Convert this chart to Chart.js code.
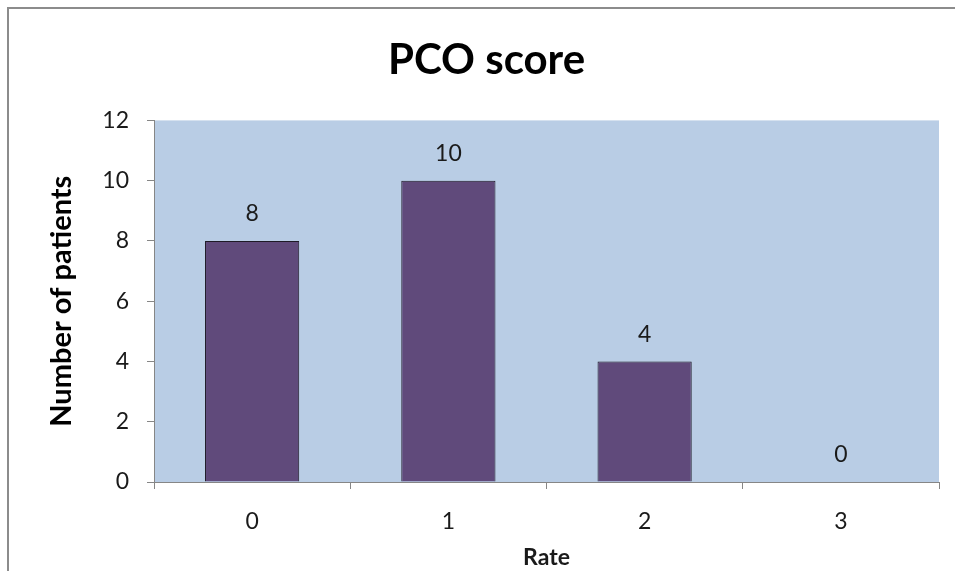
<!DOCTYPE html>
<html>
<head>
<meta charset="utf-8">
<title>PCO score</title>
<script src="https://cdn.jsdelivr.net/npm/chart.js@4/dist/chart.umd.min.js"></script>
<style>
  html, body { margin: 0; padding: 0; background: #ffffff; overflow: hidden; }
  #chart { display: block; }
</style>
</head>
<body>
<canvas id="chart" width="955" height="571"></canvas>
<script>
// Chart data
const categories = ['0', '1', '2', '3'];
const patientCounts = [8, 10, 4, 0];
const yTicks = [0, 2, 4, 6, 8, 10, 12];

const FONT = 'Lato, "Open Sans", "Liberation Sans", sans-serif';
const AXIS_GREY = '#868686';

// White page with the grey outer frame and the light-blue plot area
const backdrop = {
  id: 'backdrop',
  beforeDraw(chart) {
    const { ctx, chartArea: a } = chart;
    ctx.save();
    ctx.fillStyle = '#ffffff';
    ctx.fillRect(0, 0, chart.width, chart.height);
    ctx.strokeStyle = '#8c8c8c';
    ctx.lineWidth = 2;
    ctx.beginPath();
    ctx.moveTo(8, chart.height + 10);
    ctx.lineTo(8, 8);
    ctx.lineTo(chart.width + 10, 8);
    ctx.stroke();
    ctx.fillStyle = '#B9CDE5';
    ctx.fillRect(a.left, a.top, a.right - a.left, a.bottom - a.top);
    ctx.restore();
  }
};

// Value labels above each bar
const valueLabels = {
  id: 'valueLabels',
  afterDatasetsDraw(chart) {
    const { ctx } = chart;
    const meta = chart.getDatasetMeta(0);
    ctx.save();
    ctx.font = '23px ' + FONT;
    ctx.fillStyle = '#1a1a1a';
    ctx.textAlign = 'center';
    ctx.textBaseline = 'middle';
    meta.data.forEach((bar, i) => {
      ctx.fillText(String(patientCounts[i]), bar.x, bar.y - 27);
    });
    ctx.restore();
  }
};

new Chart(document.getElementById('chart'), {
  type: 'bar',
  data: {
    labels: categories,
    datasets: [{
      data: patientCounts,
      backgroundColor: '#604A7B',
      borderColor: '#1e1a26',
      borderWidth: 1,
      barPercentage: 0.48,
      categoryPercentage: 1.0
    }]
  },
  options: {
    responsive: false,
    animation: false,
    events: [],
    layout: { padding: { top: 10, left: 34, right: 16, bottom: 0 } },
    plugins: {
      legend: { display: false },
      tooltip: { enabled: false },
      title: {
        display: true,
        text: 'PCO score',
        color: '#000000',
        font: { family: FONT, size: 42, weight: 'bold', lineHeight: 1.2 },
        padding: { top: 25, bottom: 35 }
      }
    },
    scales: {
      x: {
        offset: true,
        grid: {
          offset: true,
          drawOnChartArea: false,
          drawTicks: true,
          tickLength: 7,
          color: AXIS_GREY
        },
        border: { display: true, color: AXIS_GREY, width: 1 },
        ticks: {
          color: '#1a1a1a',
          padding: 19,
          font: { family: FONT, size: 23 }
        },
        title: {
          display: true,
          text: 'Rate',
          color: '#1a1a1a',
          font: { family: FONT, size: 23, weight: 'bold', lineHeight: 1.2 },
          padding: { top: 0, bottom: 0 }
        },
        afterFit(scale) { scale.height = 89; }
      },
      y: {
        min: 0,
        max: 12,
        grid: {
          drawOnChartArea: false,
          drawTicks: true,
          tickLength: 7,
          color: AXIS_GREY
        },
        border: { display: true, color: AXIS_GREY, width: 1 },
        afterBuildTicks(scale) { scale.ticks = yTicks.map(v => ({ value: v })); },
        ticks: {
          color: '#1a1a1a',
          padding: 18,
          font: { family: FONT, size: 23 }
        },
        title: {
          display: true,
          text: 'Number of patients',
          color: '#000000',
          font: { family: FONT, size: 29, weight: 'bold', lineHeight: 1.2 },
          padding: { top: 10, bottom: 0 }
        },
        afterFit(scale) { scale.width = 120; }
      }
    }
  },
  plugins: [backdrop, valueLabels]
});
</script>
</body>
</html>
